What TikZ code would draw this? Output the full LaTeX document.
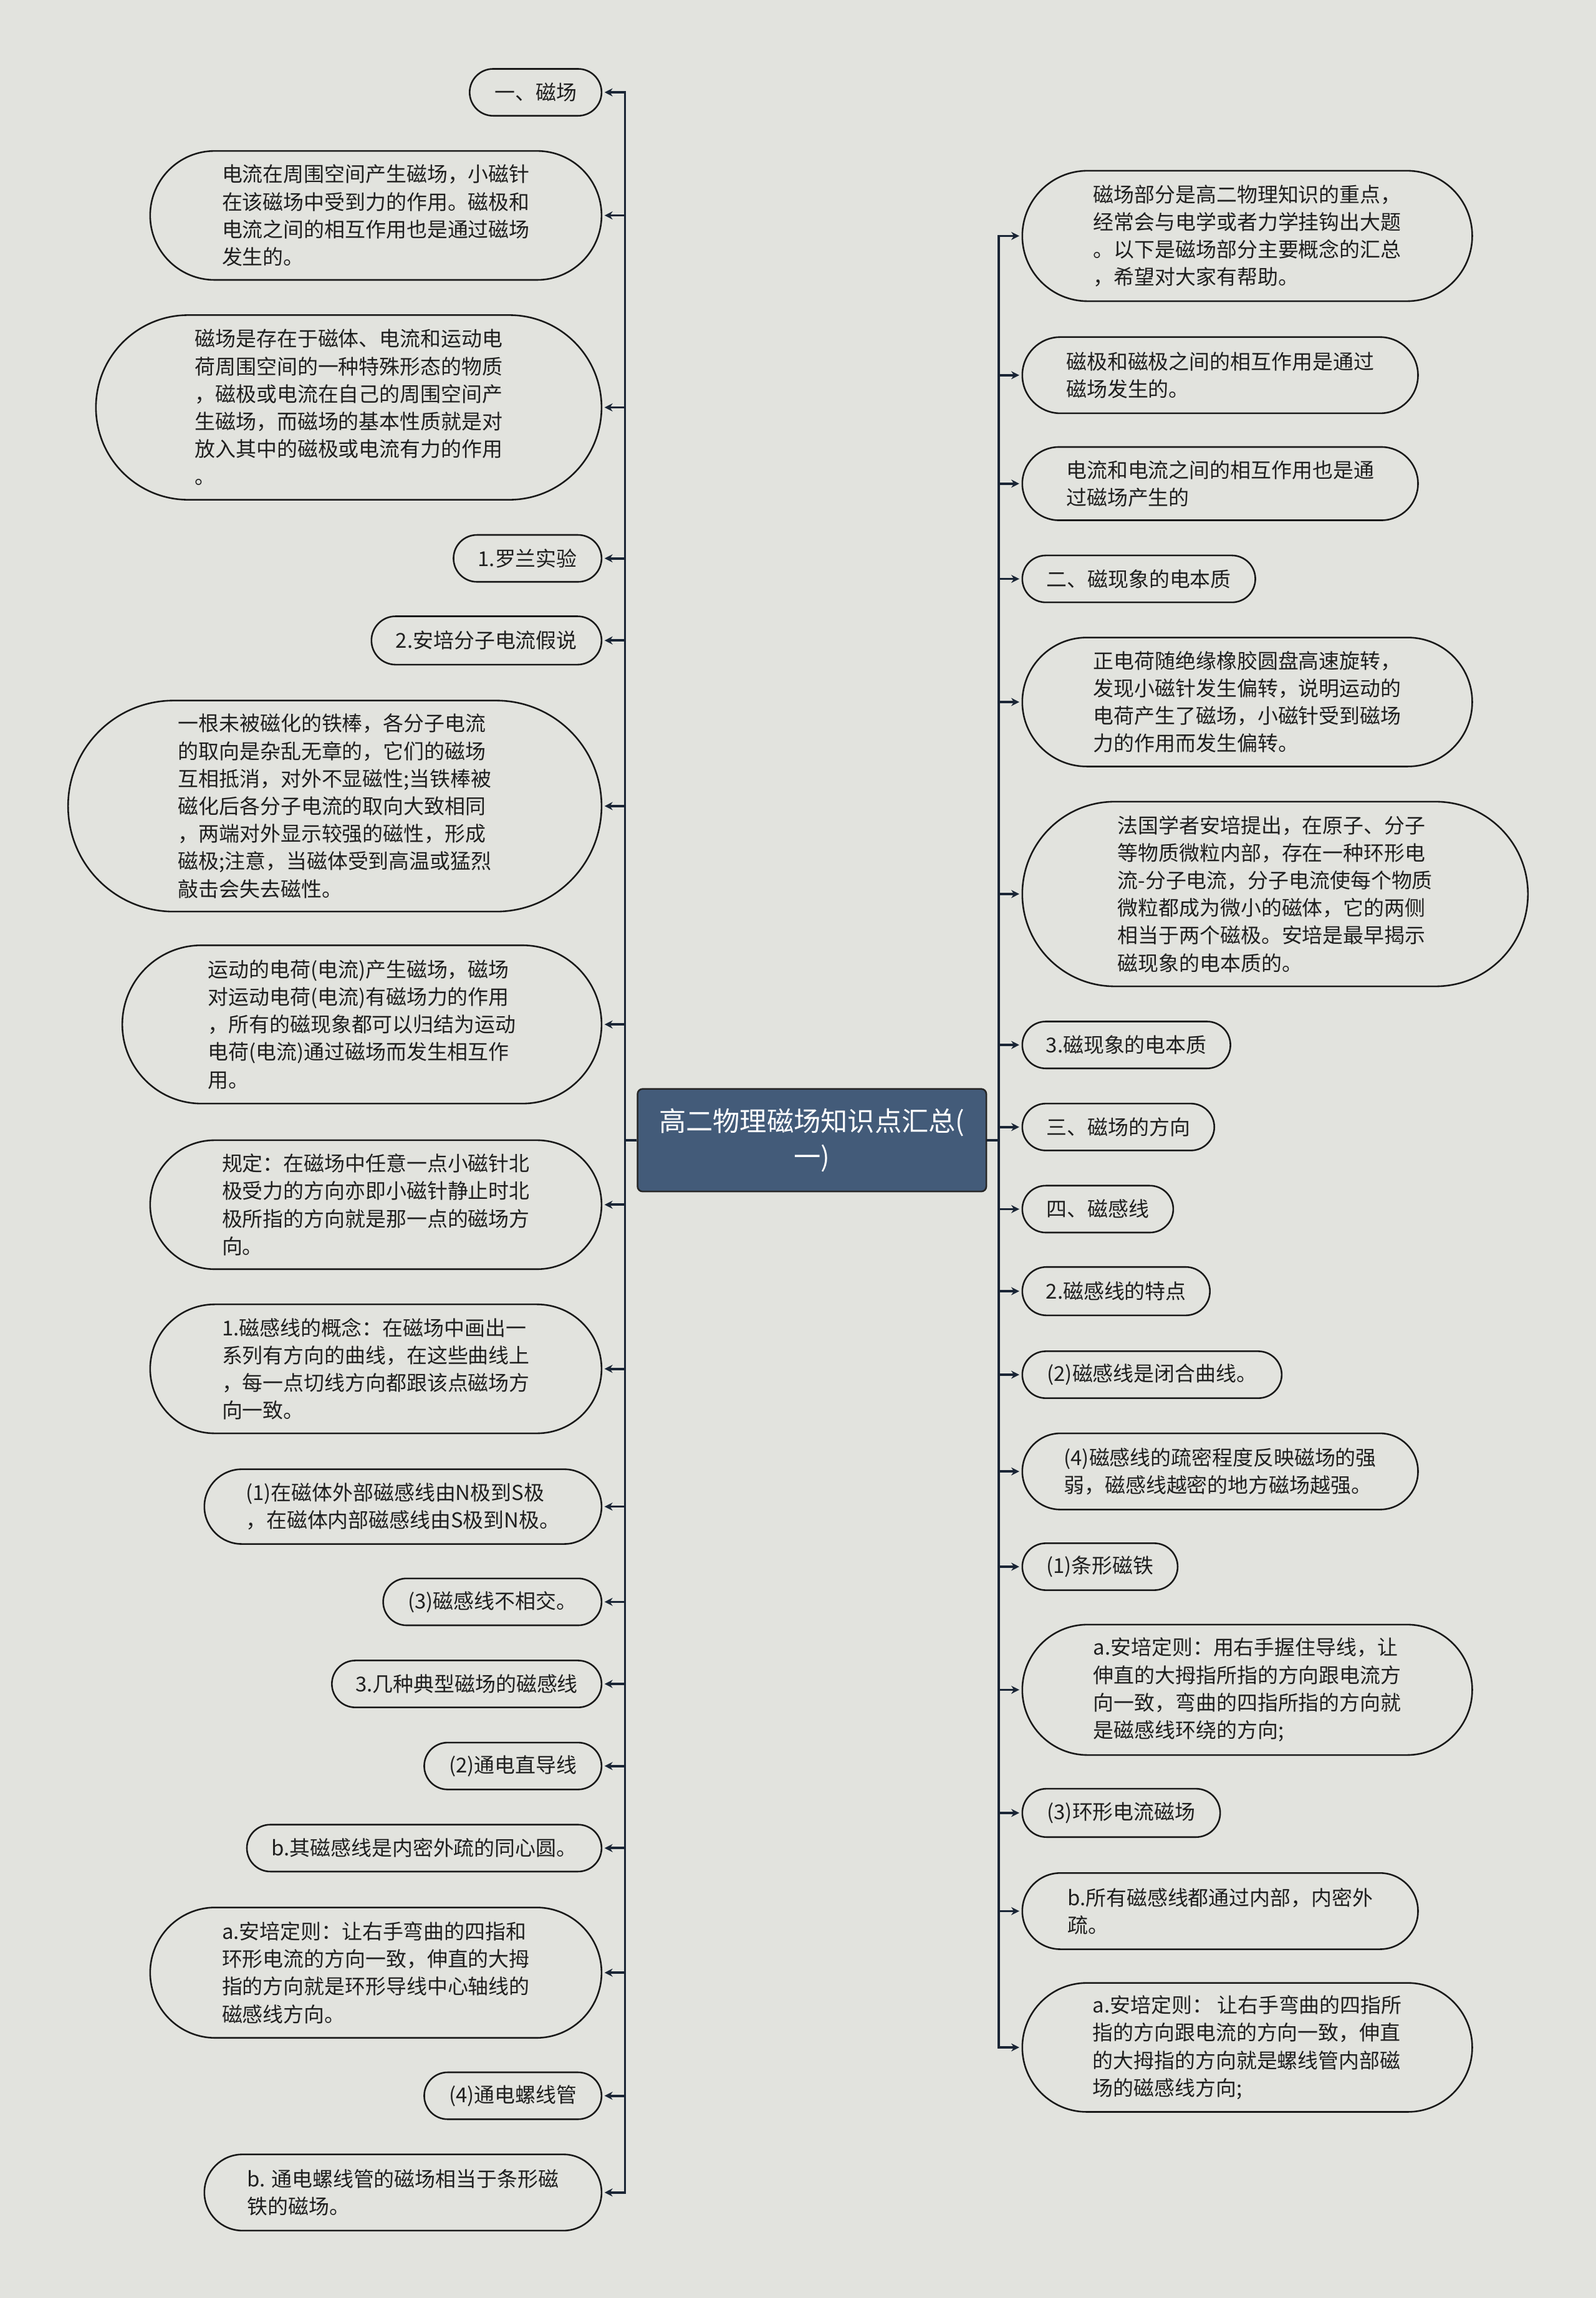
\documentclass[tikz,border=0pt]{standalone}
\usepackage{fontspec}
\setmainfont{Noto Sans CJK SC}
\usetikzlibrary{positioning,arrows.meta}
\definecolor{bg}{HTML}{E2E3DE}
\definecolor{navy}{HTML}{1A2535}
\definecolor{rootblue}{HTML}{435B79}
\definecolor{ink}{HTML}{1F1F1F}
\newcommand*{\tf}{\fontsize{14}{18.8}\selectfont}
\tikzset{
  leaf/.style={draw=black!90, line width=1.1pt, fill=bg, text=ink,
    align=left, font=\tf, inner sep=0pt},
  link/.style={navy, line width=1.6pt, shorten >=1.5pt,
    -{Stealth[length=5.5pt,width=5.5pt]}},
}

\begin{document}
\begin{tikzpicture}[x=1pt,y=-1pt]
% Background
\fill[bg] (0,0) rectangle (1089,1568);

% Root node
\node[fill=rootblue, draw=black!85, rounded corners=3.5pt, line width=1.1pt,
  minimum width=238, minimum height=70, text=white, align=center,
  font=\fontsize{18.4}{24}\selectfont] (root) at (554,778)
  {高二物理磁场知识点汇总(\\一)};

% Left branch
\foreach \i/\y/\w/\h/\t in {
  1/63/90/32/{一、磁场},
  2/147/308/88/{电流在周围空间产生磁场，小磁针\\在该磁场中受到力的作用。磁极和\\电流之间的相互作用也是通过磁场\\发生的。},
  3/278/345/126/{磁场是存在于磁体、电流和运动电\\荷周围空间的一种特殊形态的物质\\，磁极或电流在自己的周围空间产\\生磁场，而磁场的基本性质就是对\\放入其中的磁极或电流有力的作用\\。},
  4/381/101/32/{1.罗兰实验},
  5/437/157/33/{2.安培分子电流假说},
  6/550/364/144/{一根未被磁化的铁棒，各分子电流\\的取向是杂乱无章的，它们的磁场\\互相抵消，对外不显磁性;当铁棒被\\磁化后各分子电流的取向大致相同\\，两端对外显示较强的磁性，形成\\磁极;注意，当磁体受到高温或猛烈\\敲击会失去磁性。},
  7/699/327/108/{运动的电荷(电流)产生磁场，磁场\\对运动电荷(电流)有磁场力的作用\\，所有的磁现象都可以归结为运动\\电荷(电流)通过磁场而发生相互作\\用。},
  8/822/308/88/{规定：在磁场中任意一点小磁针北\\极受力的方向亦即小磁针静止时北\\极所指的方向就是那一点的磁场方\\向。},
  9/934/308/88/{1.磁感线的概念：在磁场中画出一\\系列有方向的曲线，在这些曲线上\\，每一点切线方向都跟该点磁场方\\向一致。},
  10/1028/271/51/{(1)在磁体外部磁感线由N极到S极\\，在磁体内部磁感线由S极到N极。},
  11/1093/149/32/{(3)磁感线不相交。},
  12/1149/184/32/{3.几种典型磁场的磁感线},
  13/1205/121/32/{(2)通电直导线},
  14/1261/242/32/{b.其磁感线是内密外疏的同心圆。},
  15/1346/308/89/{a.安培定则：让右手弯曲的四指和\\环形电流的方向一致，伸直的大拇\\指的方向就是环形导线中心轴线的\\磁感线方向。},
  16/1430/121/32/{(4)通电螺线管},
  17/1496/271/52/{b. 通电螺线管的磁场相当于条形磁\\铁的磁场。}}
{
  \node[leaf, anchor=east, minimum width=\w, minimum height=\h,
    rounded corners=\h/2] (L\i) at (411,\y) {\t};
  \draw[link] (root.west) -- ++(-8,0) |- (L\i.east);
}

% Right branch
\foreach \i/\y/\w/\h/\t in {
  1/161/307/89/{磁场部分是高二物理知识的重点，\\经常会与电学或者力学挂钩出大题\\。以下是磁场部分主要概念的汇总\\，希望对大家有帮助。},
  2/256/270/52/{磁极和磁极之间的相互作用是通过\\磁场发生的。},
  3/330/270/50/{电流和电流之间的相互作用也是通\\过磁场产生的},
  4/395/159/32/{二、磁现象的电本质},
  5/479/307/88/{正电荷随绝缘橡胶圆盘高速旋转，\\发现小磁针发生偏转，说明运动的\\电荷产生了磁场，小磁针受到磁场\\力的作用而发生偏转。},
  6/610/345/126/{法国学者安培提出，在原子、分子\\等物质微粒内部，存在一种环形电\\流-分子电流，分子电流使每个物质\\微粒都成为微小的磁体，它的两侧\\相当于两个磁极。安培是最早揭示\\磁现象的电本质的。},
  7/713/142/32/{3.磁现象的电本质},
  8/769/131/32/{三、磁场的方向},
  9/825/103/32/{四、磁感线},
  10/881/128/33/{2.磁感线的特点},
  11/938/177/32/{(2)磁感线是闭合曲线。},
  12/1004/270/52/{(4)磁感线的疏密程度反映磁场的强\\弱，磁感线越密的地方磁场越强。},
  13/1069/106/32/{(1)条形磁铁},
  14/1153/307/89/{a.安培定则：用右手握住导线，让\\伸直的大拇指所指的方向跟电流方\\向一致，弯曲的四指所指的方向就\\是磁感线环绕的方向;},
  15/1237/135/33/{(3)环形电流磁场},
  16/1304/270/52/{b.所有磁感线都通过内部，内密外\\疏。},
  17/1397/307/88/{a.安培定则： 让右手弯曲的四指所\\指的方向跟电流的方向一致，伸直\\的大拇指的方向就是螺线管内部磁\\场的磁感线方向;}}
{
  \node[leaf, anchor=west, minimum width=\w, minimum height=\h,
    rounded corners=\h/2] (R\i) at (697,\y) {\t};
  \draw[link] (root.east) -- ++(8,0) |- (R\i.west);
}
\end{tikzpicture}
\end{document}
